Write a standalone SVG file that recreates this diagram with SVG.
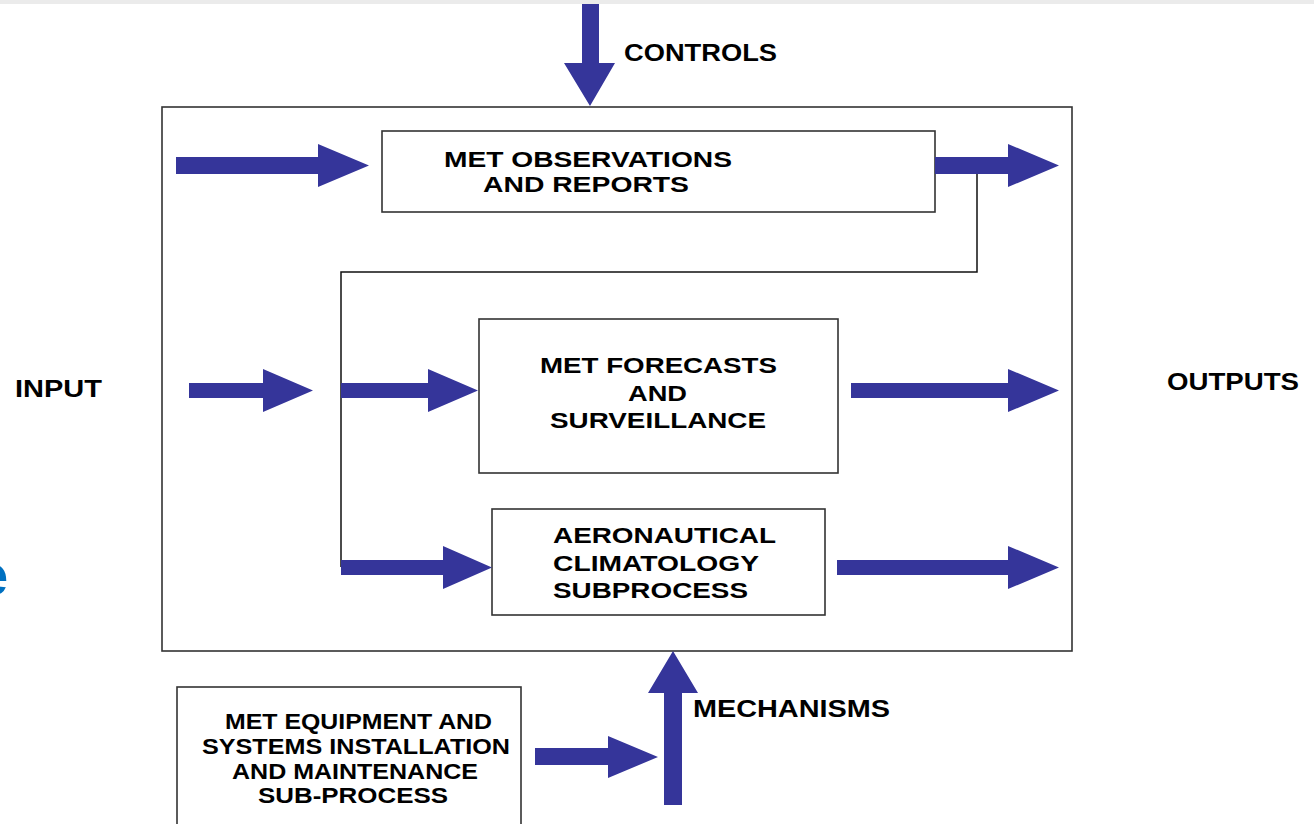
<svg xmlns="http://www.w3.org/2000/svg" width="1314" height="824" viewBox="0 0 1314 824">
<style>
.box{fill:#ffffff;stroke:#333333;stroke-width:1.6}
.arr{fill:#35359a;stroke:none}
.ln{fill:none;stroke:#111111;stroke-width:1.5}
.t{font-family:"Liberation Sans",Arial,sans-serif;font-weight:bold;font-size:22.5px;fill:#000000}
.lbl{font-family:"Liberation Sans",Arial,sans-serif;font-weight:bold;font-size:24px;fill:#000000}
</style>
<rect x="0" y="0" width="1314" height="824" fill="#ffffff"/>
<rect x="0" y="0" width="1314" height="4" fill="#ebebeb"/>
<text x="-24" y="595" font-family="'Liberation Sans',Arial,sans-serif" font-weight="bold" font-size="58" fill="#0070c0">e</text>

<g id="main-process">
<rect class="box" x="162" y="107" width="910" height="544"/>
</g>

<g id="met-observations">
<rect class="box" x="382" y="131" width="553" height="81"/>
<text class="t" x="444" y="167" textLength="288" lengthAdjust="spacingAndGlyphs">MET OBSERVATIONS</text>
<text class="t" x="483" y="192" textLength="206" lengthAdjust="spacingAndGlyphs">AND REPORTS</text>
</g>

<g id="met-forecasts">
<rect class="box" x="479" y="319" width="359" height="154"/>
<text class="t" x="540" y="373" textLength="237" lengthAdjust="spacingAndGlyphs">MET FORECASTS</text>
<text class="t" x="628" y="401" textLength="59" lengthAdjust="spacingAndGlyphs">AND</text>
<text class="t" x="550" y="428" textLength="216" lengthAdjust="spacingAndGlyphs">SURVEILLANCE</text>
</g>

<g id="aero-climatology">
<rect class="box" x="492" y="509" width="333" height="106"/>
<text class="t" x="553" y="543" textLength="223" lengthAdjust="spacingAndGlyphs">AERONAUTICAL</text>
<text class="t" x="553" y="571" textLength="206" lengthAdjust="spacingAndGlyphs">CLIMATOLOGY</text>
<text class="t" x="553" y="598" textLength="195" lengthAdjust="spacingAndGlyphs">SUBPROCESS</text>
</g>

<g id="met-equipment">
<rect class="box" x="177" y="687" width="344" height="150"/>
<text class="t" x="225" y="729" textLength="267" lengthAdjust="spacingAndGlyphs">MET EQUIPMENT AND</text>
<text class="t" x="202" y="754" textLength="308" lengthAdjust="spacingAndGlyphs">SYSTEMS INSTALLATION</text>
<text class="t" x="232" y="779" textLength="246" lengthAdjust="spacingAndGlyphs">AND MAINTENANCE</text>
<text class="t" x="258" y="803" textLength="190" lengthAdjust="spacingAndGlyphs">SUB-PROCESS</text>
</g>

<g id="labels">
<text class="lbl" x="624" y="61" textLength="153" lengthAdjust="spacingAndGlyphs">CONTROLS</text>
<text class="lbl" x="15" y="397" textLength="87" lengthAdjust="spacingAndGlyphs">INPUT</text>
<text class="lbl" x="1167" y="390" textLength="132" lengthAdjust="spacingAndGlyphs">OUTPUTS</text>
<text class="lbl" x="693" y="717" textLength="197" lengthAdjust="spacingAndGlyphs">MECHANISMS</text>
</g>

<g id="connectors">
<polyline class="ln" points="977,166 977,272 341,272 341,567"/>
<!-- controls -->
<polygon class="arr" points="582,4 599,4 599,63 615,63 590,106 564,63 582,63"/>
<!-- top input -->
<polygon class="arr" points="176,157 318,157 318,144 369,165.5 318,187 318,174 176,174"/>
<!-- top output -->
<polygon class="arr" points="935,157 1008,157 1008,144 1059,165.5 1008,187 1008,174 935,174"/>
<!-- middle input outside -->
<polygon class="arr" points="189,383 263,383 263,369 313,390.5 263,412 263,398 189,398"/>
<!-- middle input inside -->
<polygon class="arr" points="341,383 428,383 428,369 478,390.5 428,412 428,398 341,398"/>
<!-- middle output -->
<polygon class="arr" points="851,383 1008,383 1008,369 1059,390.5 1008,412 1008,398 851,398"/>
<!-- bottom input -->
<polygon class="arr" points="341,560 443,560 443,546 492,567.5 443,589 443,575 341,575"/>
<!-- bottom output -->
<polygon class="arr" points="837,560 1008,560 1008,546 1059,567.5 1008,589 1008,575 837,575"/>
<!-- mechanisms -->
<polygon class="arr" points="664,805 664,693 648,693 673,651 698,693 682,693 682,805"/>
<!-- equipment to mechanisms -->
<polygon class="arr" points="535,748 608,748 608,736 658,757 608,778 608,765 535,765"/>
</g>
</svg>
